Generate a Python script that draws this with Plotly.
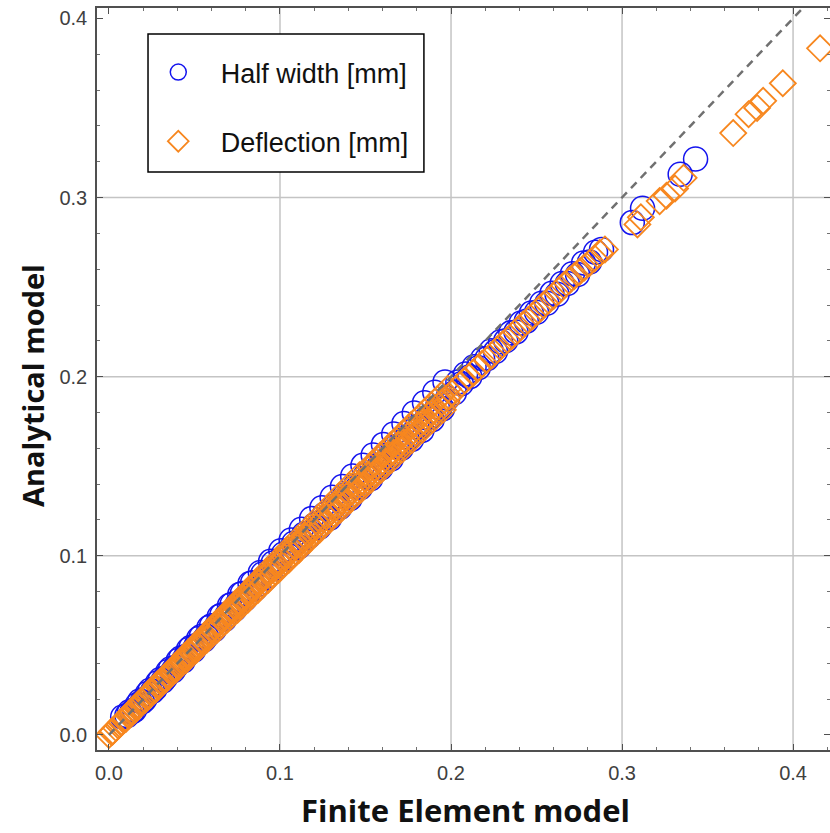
import plotly.graph_objects as go

# ---------------- data ----------------
# Deflection [mm] : (Finite Element, Analytical)
defl_x = [0.000, 0.002, 0.004, 0.007, 0.010, 0.013, 0.016, 0.019, 0.022, 0.025,
          0.028, 0.031, 0.034, 0.037, 0.040, 0.043, 0.046, 0.049, 0.052, 0.055,
          0.058, 0.061, 0.064, 0.067, 0.070, 0.073, 0.076, 0.079, 0.082, 0.085,
          0.088, 0.091, 0.094, 0.097, 0.100, 0.103, 0.106, 0.109, 0.112, 0.115,
          0.118, 0.121, 0.124, 0.127, 0.130, 0.133, 0.136, 0.139, 0.142, 0.145,
          0.148, 0.151, 0.154, 0.157, 0.160, 0.163, 0.166, 0.169, 0.172, 0.175,
          0.178, 0.181, 0.184, 0.187, 0.190, 0.193, 0.196, 0.199, 0.203, 0.208,
          0.213, 0.218, 0.224, 0.230, 0.236, 0.242, 0.248, 0.254, 0.260, 0.266,
          0.272, 0.278, 0.284, 0.290, 0.309, 0.311, 0.322, 0.326, 0.331, 0.336,
          0.365, 0.374, 0.379, 0.3825, 0.394, 0.4158]
defl_y = [0.000, 0.002, 0.004, 0.007, 0.009, 0.013, 0.015, 0.019, 0.021, 0.024,
          0.028, 0.030, 0.033, 0.036, 0.039, 0.042, 0.044, 0.048, 0.050, 0.053,
          0.057, 0.059, 0.062, 0.065, 0.068, 0.070, 0.074, 0.076, 0.079, 0.083,
          0.085, 0.088, 0.091, 0.093, 0.096, 0.099, 0.102, 0.105, 0.107, 0.111,
          0.113, 0.116, 0.119, 0.122, 0.125, 0.127, 0.131, 0.133, 0.136, 0.139,
          0.141, 0.145, 0.147, 0.150, 0.153, 0.156, 0.158, 0.162, 0.164, 0.167,
          0.170, 0.173, 0.175, 0.179, 0.181, 0.184, 0.187, 0.189, 0.193, 0.198,
          0.202, 0.207, 0.212, 0.218, 0.223, 0.229, 0.234, 0.240, 0.245, 0.251,
          0.256, 0.261, 0.266, 0.271, 0.285, 0.289, 0.298, 0.301, 0.305, 0.311,
          0.336, 0.3465, 0.350, 0.354, 0.3638, 0.3833]
defl_x2 = [0.0015, 0.0055, 0.0085, 0.0115, 0.0145, 0.0175, 0.0205, 0.0235, 0.0265, 0.0295,
           0.0325, 0.0355, 0.0385, 0.0415, 0.0445, 0.0475, 0.0505, 0.0535, 0.0565, 0.0595,
           0.0625, 0.0655, 0.0685, 0.0715, 0.0745, 0.0775, 0.0805, 0.0835, 0.0865, 0.0895,
           0.0925, 0.0955, 0.0985, 0.1015, 0.1045, 0.1075, 0.1105, 0.1135, 0.1165, 0.1195,
           0.1225, 0.1255, 0.1285, 0.1315, 0.1345, 0.1375, 0.1405, 0.1435, 0.1465, 0.1495,
           0.1525, 0.1555, 0.1585, 0.1615, 0.1645, 0.1675, 0.1705, 0.1735, 0.1765, 0.1795,
           0.1825, 0.1855, 0.1885, 0.1915, 0.1945, 0.1975,
           0.2055, 0.2105, 0.2155, 0.2210, 0.2270, 0.2330, 0.2390, 0.2450, 0.2510, 0.2570,
           0.2630, 0.2690, 0.2750, 0.2810, 0.2870]
defl_y2 = [0.0015, 0.0052, 0.0084, 0.0108, 0.0144, 0.0165, 0.0203, 0.0221, 0.0262, 0.0277,
           0.0322, 0.0334, 0.0381, 0.0390, 0.0441, 0.0447, 0.0500, 0.0503, 0.0559, 0.0559,
           0.0619, 0.0616, 0.0678, 0.0672, 0.0738, 0.0729, 0.0797, 0.0785, 0.0856, 0.0841,
           0.0916, 0.0898, 0.0975, 0.0954, 0.1035, 0.1011, 0.1094, 0.1067, 0.1153, 0.1123,
           0.1213, 0.1180, 0.1272, 0.1236, 0.1332, 0.1293, 0.1391, 0.1349, 0.1450, 0.1405,
           0.1500, 0.1462, 0.1558, 0.1518, 0.1615, 0.1575, 0.1672, 0.1631, 0.1729, 0.1687,
           0.1785, 0.1744, 0.1842, 0.1800, 0.1898, 0.1857,
           0.1955, 0.2000, 0.2045, 0.2095, 0.2150, 0.2205, 0.2260, 0.2315, 0.2370, 0.2425,
           0.2480, 0.2535, 0.2585, 0.2635, 0.2690]
defl_x3 = [0.0023, 0.0062, 0.0092, 0.0122, 0.0152, 0.0182, 0.0212, 0.0242, 0.0272, 0.0302,
           0.0332, 0.0362, 0.0392, 0.0422, 0.0452, 0.0482, 0.0512, 0.0542, 0.0572, 0.0602,
           0.0632, 0.0662, 0.0692, 0.0722, 0.0752, 0.0782, 0.0812, 0.0842, 0.0872, 0.0902,
           0.0932, 0.0962, 0.0992, 0.1022, 0.1052, 0.1082, 0.1112, 0.1142, 0.1172, 0.1202,
           0.1232, 0.1262, 0.1292, 0.1322, 0.1352, 0.1382, 0.1412, 0.1442, 0.1472, 0.1502,
           0.1532, 0.1562, 0.1592, 0.1622, 0.1652, 0.1682, 0.1712, 0.1742, 0.1772, 0.1802,
           0.1832, 0.1862, 0.1892, 0.1922, 0.1952, 0.1982]
defl_y3 = [0.0021, 0.0060, 0.0086, 0.0119, 0.0141, 0.0177, 0.0197, 0.0236, 0.0253, 0.0294,
           0.0309, 0.0353, 0.0365, 0.0411, 0.0420, 0.0470, 0.0476, 0.0528, 0.0532, 0.0587,
           0.0588, 0.0645, 0.0644, 0.0704, 0.0699, 0.0762, 0.0755, 0.0821, 0.0811, 0.0879,
           0.0867, 0.0938, 0.0923, 0.0996, 0.0978, 0.1055, 0.1034, 0.1113, 0.1090, 0.1172,
           0.1146, 0.1230, 0.1202, 0.1289, 0.1257, 0.1347, 0.1313, 0.1406, 0.1369, 0.1464,
           0.1425, 0.1523, 0.1481, 0.1581, 0.1536, 0.1640, 0.1592, 0.1698, 0.1648, 0.1757,
           0.1704, 0.1815, 0.1760, 0.1874, 0.1815, 0.1932]

# Half width [mm] : (Finite Element, Analytical)
hw_x = [0.008, 0.012, 0.015, 0.018, 0.021, 0.024, 0.027, 0.030, 0.033, 0.036,
        0.039, 0.042, 0.045, 0.048, 0.051, 0.054, 0.057, 0.060, 0.063, 0.066,
        0.069, 0.072, 0.075, 0.078, 0.081, 0.084, 0.087, 0.090, 0.093, 0.096,
        0.099, 0.102, 0.105, 0.108, 0.111, 0.114, 0.117, 0.120, 0.123, 0.126,
        0.129, 0.132, 0.135, 0.138, 0.141, 0.144, 0.147, 0.150, 0.153, 0.156,
        0.159, 0.162, 0.165, 0.168, 0.171, 0.174, 0.177, 0.180, 0.183, 0.186,
        0.189, 0.192, 0.195, 0.198, 0.202, 0.206, 0.211, 0.216, 0.221, 0.226,
        0.232, 0.238, 0.244, 0.250, 0.256, 0.262, 0.268, 0.274, 0.281, 0.288,
        0.306, 0.312, 0.334, 0.343]
hw_y = [0.010, 0.013, 0.014, 0.019, 0.020, 0.025, 0.026, 0.031, 0.032, 0.037,
        0.038, 0.043, 0.044, 0.049, 0.050, 0.055, 0.055, 0.061, 0.061, 0.067,
        0.067, 0.073, 0.073, 0.079, 0.078, 0.085, 0.084, 0.090, 0.089, 0.096,
        0.095, 0.101, 0.100, 0.107, 0.105, 0.112, 0.111, 0.117, 0.116, 0.123,
        0.121, 0.128, 0.127, 0.134, 0.132, 0.139, 0.138, 0.145, 0.143, 0.150,
        0.149, 0.156, 0.154, 0.161, 0.160, 0.166, 0.165, 0.172, 0.170, 0.177,
        0.176, 0.183, 0.182, 0.188, 0.191, 0.196, 0.200, 0.205, 0.210, 0.214,
        0.220, 0.225, 0.231, 0.236, 0.241, 0.246, 0.252, 0.257, 0.264, 0.271,
        0.286, 0.294, 0.313, 0.3215]
hw_x2 = [0.0105, 0.0135, 0.0165, 0.0195, 0.0225, 0.0255, 0.0285, 0.0315, 0.0345, 0.0375,
         0.0405, 0.0435, 0.0465, 0.0495, 0.0525, 0.0555, 0.0585, 0.0615, 0.0645, 0.0675,
         0.0705, 0.0735, 0.0765, 0.0795, 0.0825, 0.0855, 0.0885, 0.0915, 0.0945, 0.0975,
         0.1005, 0.1035, 0.1065, 0.1095, 0.1125, 0.1155, 0.1185, 0.1215, 0.1245, 0.1275,
         0.1305, 0.1335, 0.1365, 0.1395, 0.1425, 0.1455, 0.1485, 0.1515, 0.1545, 0.1575,
         0.1605, 0.1635, 0.1665, 0.1695, 0.1725, 0.1755, 0.1785, 0.1815, 0.1845, 0.1875,
         0.1905, 0.1935, 0.1965,
         0.2040, 0.2085, 0.2135, 0.2185, 0.2235, 0.2290, 0.2350, 0.2410, 0.2470, 0.2530,
         0.2590, 0.2650, 0.2710, 0.2775, 0.2845]
hw_y2 = [0.0108, 0.0129, 0.0169, 0.0186, 0.0231, 0.0244, 0.0292, 0.0301, 0.0354, 0.0358,
         0.0415, 0.0415, 0.0477, 0.0473, 0.0538, 0.0530, 0.0600, 0.0587, 0.0661, 0.0645,
         0.0723, 0.0702, 0.0784, 0.0759, 0.0846, 0.0816, 0.0907, 0.0874, 0.0969, 0.0931,
         0.1028, 0.0987, 0.1088, 0.1044, 0.1148, 0.1101, 0.1208, 0.1158, 0.1268, 0.1214,
         0.1327, 0.1270, 0.1387, 0.1327, 0.1446, 0.1383, 0.1505, 0.1439, 0.1563, 0.1495,
         0.1622, 0.1550, 0.1680, 0.1606, 0.1739, 0.1661, 0.1797, 0.1717, 0.1855, 0.1772,
         0.1913, 0.1827, 0.1970,
         0.1970, 0.2015, 0.2055, 0.2100, 0.2145, 0.2195, 0.2245, 0.2300, 0.2355, 0.2410,
         0.2465, 0.2520, 0.2575, 0.2635, 0.2695]

identity = [0.0, 0.42]          # y = x reference line
x_grid = [0.1, 0.2, 0.3, 0.4]
y_grid = [0.1, 0.2, 0.3]
x_range = [-0.007, 0.4216]
y_range = [-0.0084, 0.4058]

BLUE = "#1414ee"
ORANGE = "#f7871f"
NBSP = "\u00a0" * 3

fig = go.Figure()
fig.add_trace(go.Scatter(
    x=hw_x + hw_x2, y=hw_y + hw_y2, mode="markers", name=NBSP + "Half width [mm]",
    legendgroup="a",
    marker=dict(symbol="circle-open", size=24, color=BLUE, line=dict(width=1.5, color=BLUE)),
))
fig.add_trace(go.Scatter(
    x=defl_x + defl_x2 + defl_x3, y=defl_y + defl_y2 + defl_y3, mode="markers",
    name=NBSP + "Deflection [mm]", legendgroup="b",
    marker=dict(symbol="diamond-open", size=20, color=ORANGE, line=dict(width=1.8, color=ORANGE)),
))
fig.add_trace(go.Scatter(
    x=identity, y=identity, mode="lines", showlegend=False, hoverinfo="skip",
    line=dict(color="#707070", width=2.5, dash="8px,6px"),
))

shapes = []
for gx in x_grid:
    shapes.append(dict(type="line", xref="x", yref="paper", x0=gx, x1=gx, y0=0, y1=1,
                       line=dict(color="#c4c4c4", width=1.5), layer="below"))
for gy in y_grid:
    shapes.append(dict(type="line", xref="paper", yref="y", x0=0, x1=1, y0=gy, y1=gy,
                       line=dict(color="#c4c4c4", width=1.5), layer="below"))
# legend frame
shapes.append(dict(type="rect", xref="paper", yref="paper",
                   x0=0.0696, x1=0.446, y0=0.779, y1=0.965,
                   fillcolor="white", line=dict(color="black", width=1.5), layer="below"))

tickfont = dict(family="Liberation Sans, Arial, sans-serif", size=20, color="#404040")
common = dict(
    automargin=False,
    showgrid=False, zeroline=False, showline=True, linecolor="#505050", linewidth=1.5,
    mirror="allticks", ticks="inside", ticklen=6, tickcolor="#505050", tickwidth=1,
    dtick=0.1, tick0=0, tickformat=".1f", tickfont=tickfont,
    minor=dict(ticks="inside", dtick=0.02, tick0=0, ticklen=3, tickcolor="#707070", showgrid=False),
)

fig.update_layout(
    width=830, height=833,
    margin=dict(l=97, r=0, t=8, b=83, autoexpand=False),
    paper_bgcolor="white", plot_bgcolor="white",
    shapes=shapes,
    xaxis=dict(range=x_range, ticklabelstandoff=4, **common),
    yaxis=dict(range=y_range, ticklabelstandoff=4, **common),
    annotations=[
        dict(text="<b>Finite Element model</b>", xref="paper", yref="paper",
             x=0.5034, y=-0.0809, xanchor="center", yanchor="middle", showarrow=False,
             font=dict(family="Open Sans, sans-serif", size=31, color="#111111")),
        dict(text="<b>Analytical model</b>", xref="paper", yref="paper",
             x=-0.0873, y=0.4906, xanchor="center", yanchor="middle", textangle=-90,
             showarrow=False,
             font=dict(family="Open Sans, sans-serif", size=29, color="#111111")),
    ],
    legend=dict(
        x=0.0836, y=0.946, xanchor="left", yanchor="top",
        bgcolor="rgba(0,0,0,0)", borderwidth=0,
        font=dict(family="Liberation Sans, Arial, sans-serif", size=27, color="#111111"),
        tracegroupgap=31,
    ),
    showlegend=True,
)

fig.write_html("out.html", config={"displayModeBar": False},
               post_script="document.body.style.margin='0px';document.body.style.overflow='hidden';")
